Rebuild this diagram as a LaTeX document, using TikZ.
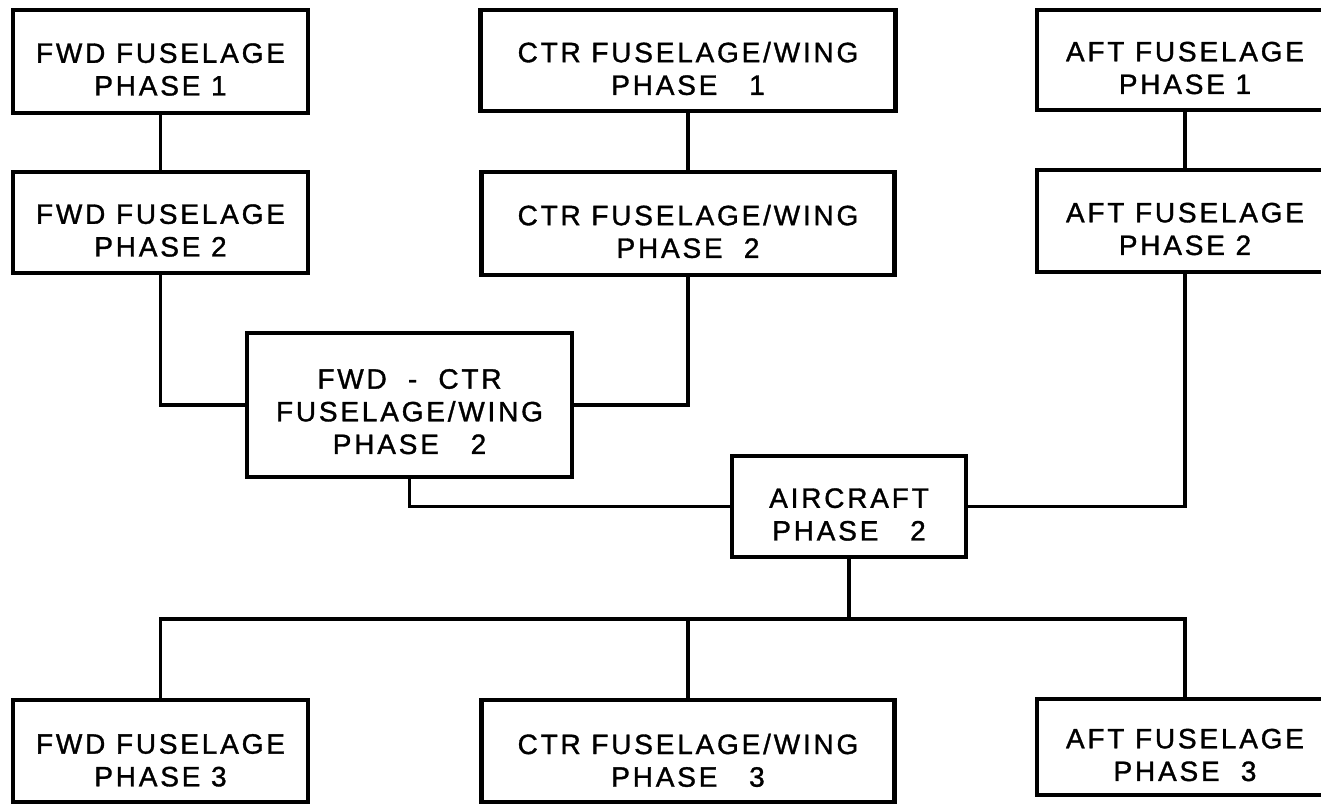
\documentclass[tikz,border=0pt]{standalone}
\usepackage{fontspec}
\newfontfamily\lett[LetterSpace=10,FakeBold=1.2]{Liberation Sans}
\begin{document}
\begin{tikzpicture}[x=0.75pt,y=-0.75pt,
  box/.style={draw,line width=3.2pt,inner sep=0pt,outer sep=0pt},
  lbl/.style={font=\lett\fontsize{21}{24.5}\selectfont,align=center,inner sep=0pt},
  link/.style={line width=2.8pt}]
\useasboundingbox (0,0) rectangle (1321,806);
\clip (0,0) rectangle (1321,806);
\fill[white] (0,0) rectangle (1321,806);
% boxes
\node[box,minimum width=221.25pt,minimum height=77.25pt] (fwd1) at (160.5,61.5) {};
\node[box,minimum width=221.25pt,minimum height=75.75pt] (fwd2) at (160.5,222.5) {};
\node[box,minimum width=221.25pt,minimum height=76.5pt]  (fwd3) at (160.5,751) {};
\node[box,minimum width=311.25pt,minimum height=75.75pt] (ctr1) at (688,60.5) {};
\node[box,minimum width=309.75pt,minimum height=77.25pt] (ctr2) at (688,223.5) {};
\node[box,minimum width=309.75pt,minimum height=76.5pt]  (ctr3) at (688,751) {};
\node[box,minimum width=222pt,minimum height=75pt]       (aft1) at (1185,60) {};
\node[box,minimum width=222pt,minimum height=76.5pt]     (aft2) at (1185,221) {};
\node[box,minimum width=222pt,minimum height=72pt]       (aft3) at (1185,747) {};
\node[box,minimum width=243.75pt,minimum height=108pt]   (fwdctr) at (409.5,405) {};
\node[box,minimum width=175.5pt,minimum height=75.75pt]  (air) at (849,506.5) {};
\coordinate (bus) at (849,619);
% labels
\node[lbl] (tfwd1) at ([yshift=-6pt]fwd1.center) {FWD FUSELAGE\\PHASE 1};
\node[lbl] (tfwd2) at ([yshift=-6pt]fwd2.center) {FWD FUSELAGE\\PHASE 2};
\node[lbl] (tfwd3) at ([yshift=-7pt]fwd3.center) {FWD FUSELAGE\\PHASE 3};
\node[lbl] (tctr1) at ([yshift=-6pt]ctr1.center) {CTR FUSELAGE/WING\\PHASE\ \ \ 1};
\node[lbl] (tctr2) at ([yshift=-6pt]ctr2.center) {CTR FUSELAGE/WING\\PHASE\ \ 2};
\node[lbl] (tctr3) at ([yshift=-7pt]ctr3.center) {CTR FUSELAGE/WING\\PHASE\ \ \ 3};
\node[lbl] (taft1) at ([yshift=-6pt]aft1.center) {AFT FUSELAGE\\PHASE 1};
\node[lbl] (taft2) at ([yshift=-6pt]aft2.center) {AFT FUSELAGE\\PHASE 2};
\node[lbl] (taft3) at ([yshift=-6pt]aft3.center) {AFT FUSELAGE\\PHASE\ \ 3};
\node[lbl] (tfwdctr) at ([yshift=-5pt]fwdctr.center) {FWD\ \ -\ \ CTR\\FUSELAGE/WING\\PHASE\ \ \ 2};
\node[lbl] (tair) at ([yshift=-6pt]air.center) {AIRCRAFT\\PHASE\ \ \ 2};
% connectors
\draw[link] (fwd1.south) -- (fwd2.north);
\draw[link] (ctr1.south) -- (ctr2.north);
\draw[link] (aft1.south) -- (aft2.north);
\draw[link] (fwd2.south) |- (fwdctr.west);
\draw[link] (ctr2.south) |- (fwdctr.east);
\draw[link] (fwdctr.south) |- (air.west);
\draw[link] (aft2.south) |- (air.east);
\draw[link] (air.south) -- (bus);
\draw[link] (fwd3.north) -- (fwd3.north |- bus) -- (aft3.north |- bus) -- (aft3.north);
\draw[link] (ctr3.north) -- (ctr3.north |- bus);
\end{tikzpicture}
\end{document}
